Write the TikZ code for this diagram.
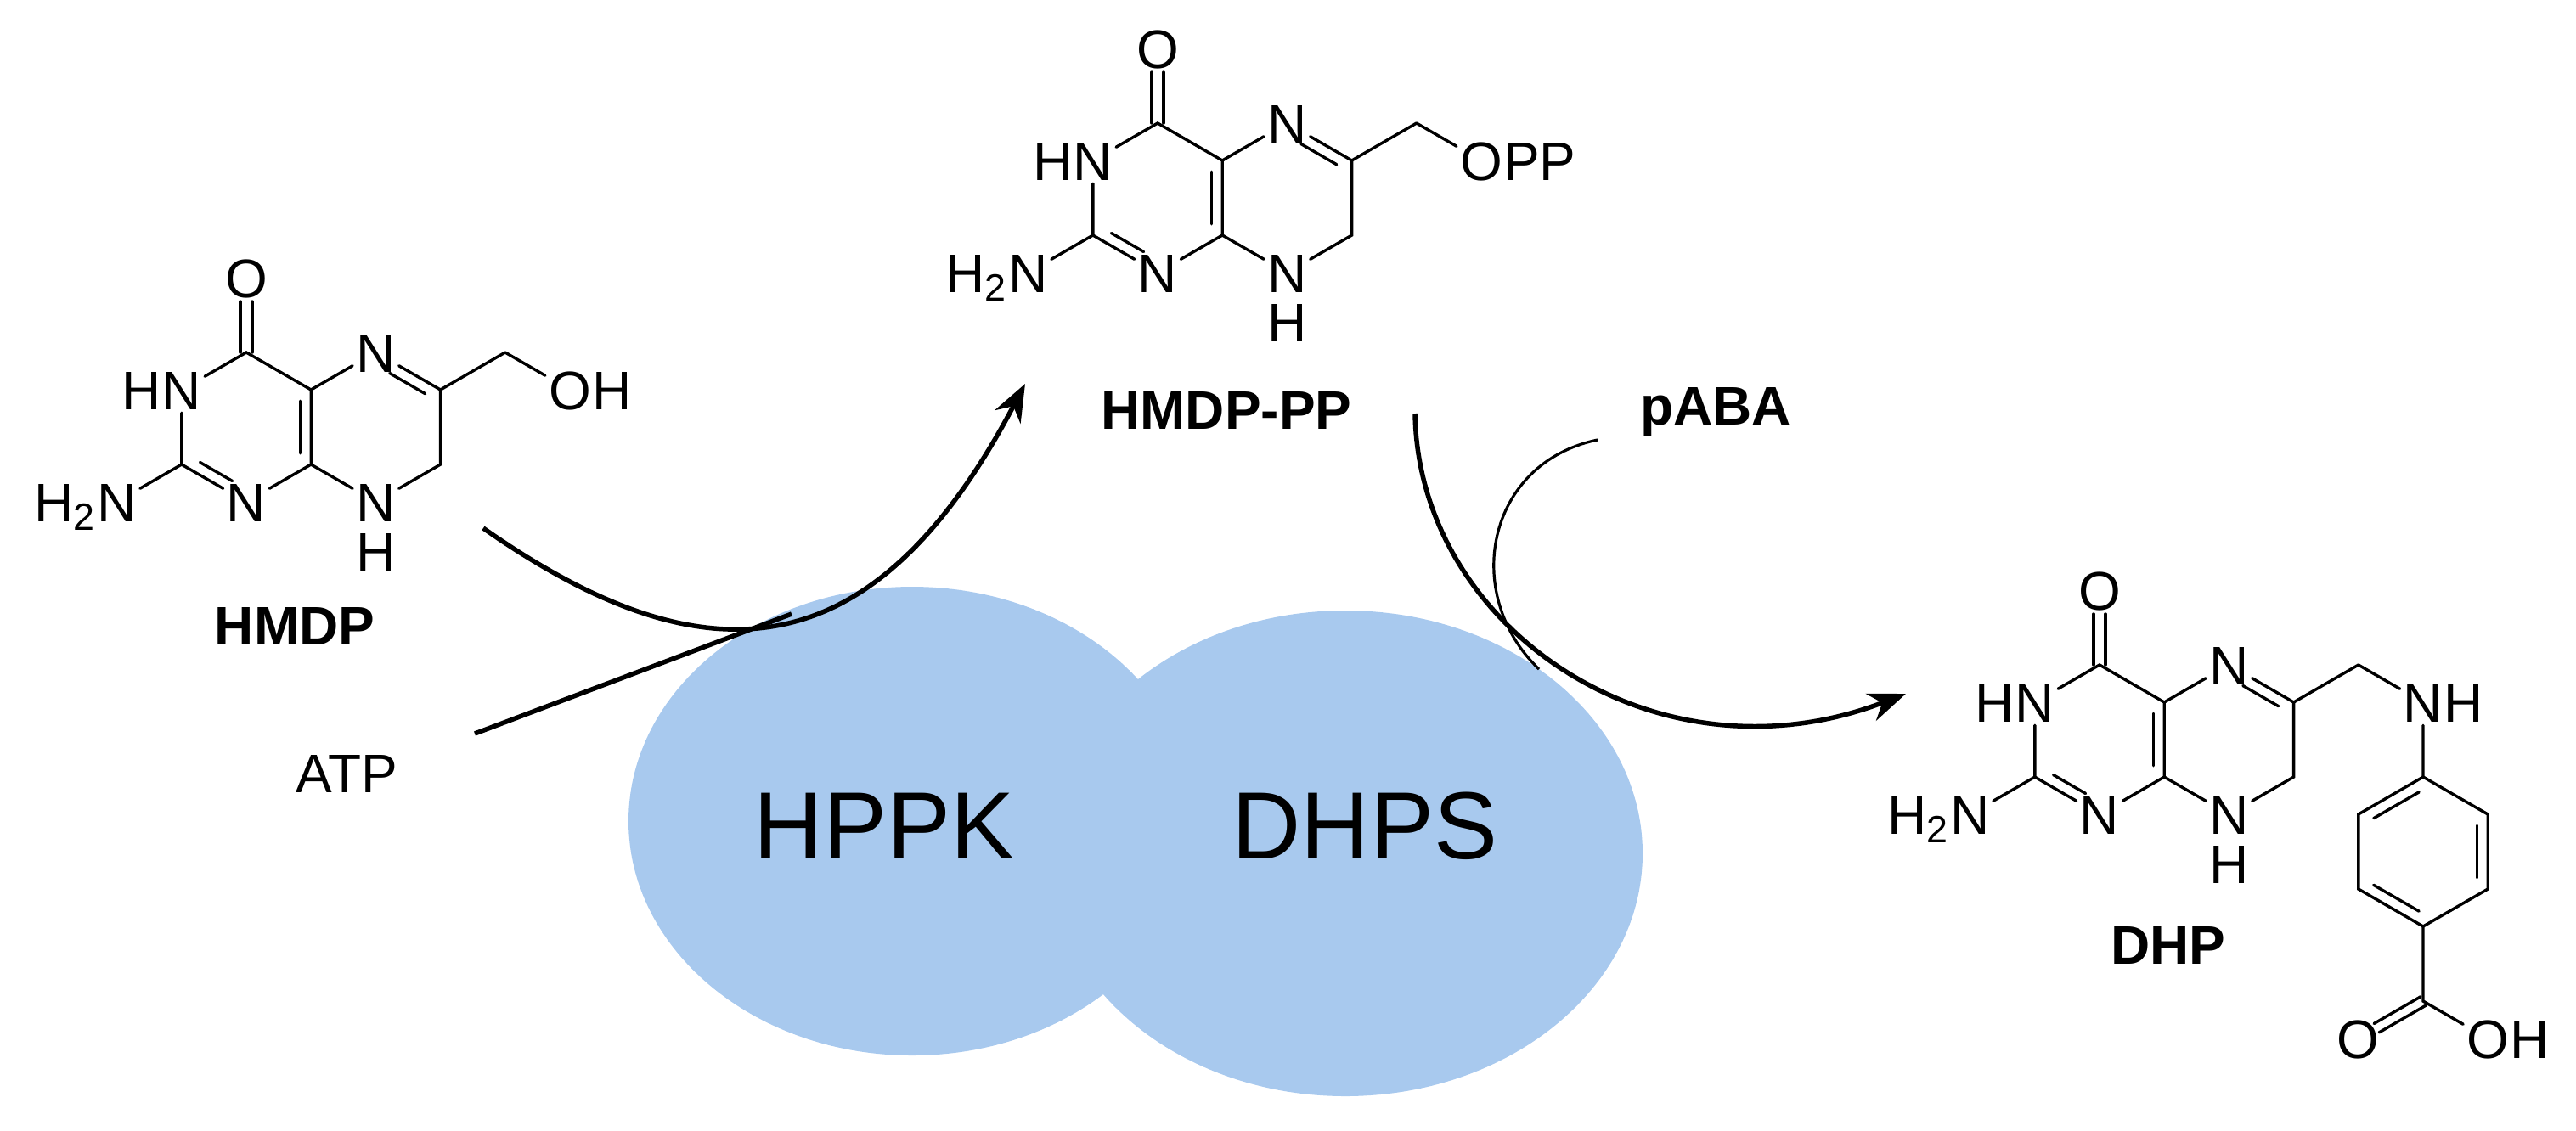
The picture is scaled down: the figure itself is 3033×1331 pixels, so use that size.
\documentclass[tikz,border=0pt]{standalone}
\usepackage{fontspec}
\setmainfont{Liberation Sans}
\usetikzlibrary{arrows.meta,calc}
\definecolor{blob}{RGB}{168,201,238}
\tikzset{
  atom/.style={font=\fontsize{18.2pt}{20pt}\selectfont, inner sep=0.35mm, text height=4.6mm, text depth=0mm},
  attach/.style={font=\fontsize{18.2pt}{20pt}\selectfont, inner sep=0mm, text height=4.6mm, text depth=0mm},
  bond/.style={line width=0.34mm, line cap=round},
  lbl/.style={font=\fontsize{18.2pt}{20pt}\selectfont\bfseries, anchor=base},
  plain/.style={font=\fontsize{18.2pt}{20pt}\selectfont, anchor=base},
  enz/.style={font=\fontsize{32pt}{34pt}\selectfont, anchor=base},
  rxn/.style={line width=0.55mm, -{Stealth[length=4.4mm,width=3.4mm]}},
  thin/.style={line width=0.32mm},
}
\newcommand{\pterincore}[1]{%
  \coordinate (#1c4) at (0,-88);
  \coordinate (#1c4a) at (76.2,-44);
  \coordinate (#1c8a) at (76.2,44);
  \coordinate (#1c2) at (-76.2,44);
  \coordinate (#1c6) at (228.6,-44);
  \coordinate (#1c7) at (228.6,44);
  \coordinate (#1ch) at (304.8,-88);
  \node[atom] (#1o) at (0,-176) {O};
  \node[atom] (#1n1) at (0,88) {N};
  \node[atom] (#1n3) at (-76.2,-44) {N};
  \node[attach,anchor=east] (#1n3h) at ([xshift=0.35mm]#1n3.west) {H};
  \node[atom] (#1na) at (-152.4,88) {N};
  \node[attach,anchor=east] (#1nah) at ([xshift=0.35mm]#1na.west) {H\textsubscript{2}};
  \node[atom] (#1n5) at (152.4,-88) {N};
  \node[atom] (#1n8) at (152.4,88) {N};
  \node[atom] (#1h8) at (152.4,146) {H};
  \draw[bond] (#1n3) -- (#1c4) -- (#1c4a) -- (#1c8a) -- (#1n1) -- (#1c2) -- (#1n3);
  \draw[bond] (#1c2) -- (#1na);
  \draw[bond] (#1c4a) -- (#1n5) -- (#1c6) -- (#1c7) -- (#1n8) -- (#1c8a);
  \draw[bond] (#1c6) -- (#1ch);
  \draw[bond] (-7,-88) -- (-7,-148) (7,-88) -- (7,-148);
  \draw[bond] (-54.5,41.5) -- (-16.4,63.5);
  \draw[bond] (63.2,-30.8) -- (63.2,30.8);
  \draw[bond] (168.8,-63.5) -- (210.7,-39.3);
}
\begin{document}
\begin{tikzpicture}[x=0.1mm,y=-0.1mm]
\useasboundingbox (0,0) rectangle (3033,1331);
% enzymes
\fill[blob] (1074,967) ellipse [x radius=33.4mm, y radius=27.6mm];
\fill[blob] (1584,1005) ellipse [x radius=35mm, y radius=28.6mm];
\node[enz] (hppk) at (1041,1011) {HPPK};
\node[enz] (dhps) at (1607,1011) {DHPS};
% HMDP
\begin{scope}[shift={(290,503)}]
  \pterincore{a}
  \node[atom] (aoh) at (381,-44) {O};
  \node[attach,anchor=west] (aohh) at ([xshift=-0.35mm]aoh.east) {H};
  \draw[bond] (ach) -- (aoh);
\end{scope}
\node[lbl] (hmdp) at (347,759) {HMDP};
% HMDP-PP
\begin{scope}[shift={(1363,233)}]
  \pterincore{b}
  \node[atom] (boh) at (381,-44) {O};
  \node[attach,anchor=west] (bpp) at ([xshift=-0.35mm]boh.east) {PP};
  \draw[bond] (bch) -- (boh);
\end{scope}
\node[lbl] (hmdppp) at (1444,505) {HMDP-PP};
% DHP
\begin{scope}[shift={(2472,871)}]
  \pterincore{c}
  \node[atom] (cnh) at (381,-44) {N};
  \node[attach,anchor=west] (cnhh) at ([xshift=-0.35mm]cnh.east) {H};
  \coordinate (b1) at (381,44);
  \coordinate (b2) at (457.2,88);
  \coordinate (b3) at (457.2,176);
  \coordinate (b4) at (381,220);
  \coordinate (b5) at (304.8,176);
  \coordinate (b6) at (304.8,88);
  \coordinate (cc) at (381,308);
  \node[atom] (co1) at (304.8,352) {O};
  \node[atom] (co2) at (457.2,352) {O};
  \node[attach,anchor=west] (co2h) at ([xshift=-0.35mm]co2.east) {H};
  \draw[bond] (cch) -- (cnh) -- (b1);
  \draw[bond] (b1) -- (b2) -- (b3) -- (b4) -- (b5) -- (b6) -- cycle;
  \draw[bond] (b4) -- (cc) -- (co2);
  \draw[bond] (376.1,61.9) -- (322.7,92.7);
  \draw[bond] (444.2,101.2) -- (444.2,162.8);
  \draw[bond] (376.1,202.1) -- (322.7,171.3);
  \draw[bond] (378,302.8) -- (323.1,334.5);
  \draw[bond] (384,313.2) -- (329.1,344.9);
\end{scope}
\node[lbl] (dhp) at (2553,1135) {DHP};
\node[plain] (atp) at (408,933) {ATP};
\node[lbl] (paba) at (2020,500) {pABA};
% reaction arrows
\coordinate (s1) at (569,622);
\coordinate (e1) at (1207,452);
\draw[rxn] (s1) .. controls (829,804) and (1027,794) .. (e1);
\coordinate (atps) at (559,864);
\coordinate (atpe) at (932,723);
\draw[line width=0.55mm] (atps) -- (atpe);
\coordinate (s2) at (1666,487);
\coordinate (e2) at (2244,817);
\draw[rxn] (s2) .. controls (1670,740) and (1950,930) .. (e2);
\coordinate (ps) at (1881,518);
\coordinate (pe) at (1812,788);
\draw[thin] (ps) .. controls (1750,545) and (1720,700) .. (pe);
\end{tikzpicture}
\end{document}
